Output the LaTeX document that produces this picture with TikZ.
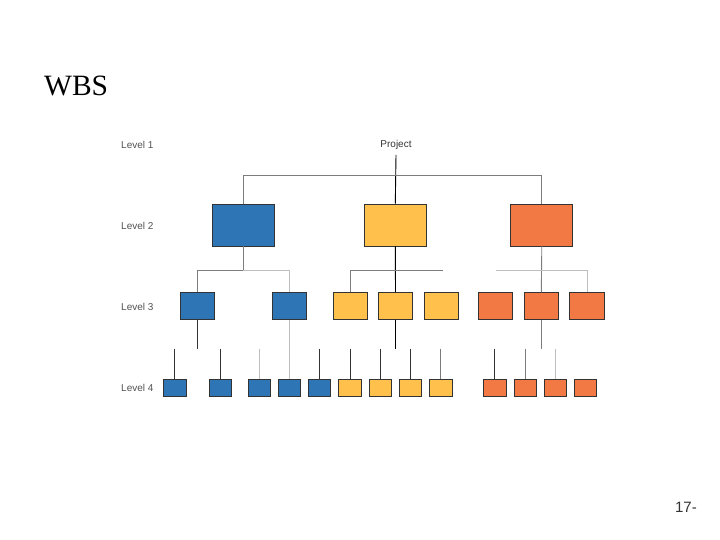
\documentclass[tikz,border=0pt]{standalone}
\usepackage{fontspec}
\setmainfont{Liberation Sans}
\newfontfamily\titlefont{Liberation Serif}
\usepackage{tikz}
\usetikzlibrary{positioning}
\usepackage{xcolor}
\definecolor{WbsBlue}{RGB}{46,117,182}
\definecolor{WbsYellow}{RGB}{255,192,76}
\definecolor{WbsOrange}{RGB}{242,121,68}
\definecolor{EdgeDark}{RGB}{51,51,51}
\definecolor{EdgeMid}{RGB}{125,125,125}
\definecolor{EdgeLight}{RGB}{190,190,190}

\tikzset{
  lvltext/.style={anchor=west,font=\fontsize{10}{12}\selectfont,text=EdgeDark!85,inner sep=0pt},
  wbsbox/.style={draw=EdgeDark,line width=0.8pt,inner sep=0pt},
  boxtwo/.style={wbsbox,minimum width=62pt,minimum height=42pt},
  boxthree/.style={wbsbox,minimum width=34.5pt,minimum height=26.7pt},
  boxfour/.style={wbsbox,minimum width=22.7pt,minimum height=17.3pt},
  conn/.style={line width=0.9pt,EdgeDark},
  connmid/.style={line width=0.9pt,EdgeMid},
  connlight/.style={line width=0.9pt,EdgeLight}
}

\begin{document}
\begin{tikzpicture}[x=1pt,y=1pt]
    \useasboundingbox (0,0) rectangle (720,-540);

    % title and page number
    \node[anchor=west,inner sep=0pt,font=\titlefont\fontsize{29.5}{32}\selectfont] (title) at (44,-86) {WBS};
    \node[anchor=east,inner sep=0pt,font=\fontsize{15}{18}\selectfont,text=EdgeDark] (pagenum) at (697,-507) {17-};

    % level labels
    \node[lvltext] (lvlone) at (121,-145) {Level 1};
    \node[lvltext] (lvltwo) at (121,-226) {Level 2};
    \node[lvltext] (lvlthree) at (121,-307) {Level 3};
    \node[lvltext] (lvlfour) at (121,-388) {Level 4};

    % level 1 and 2
    \node[inner sep=0pt,font=\fontsize{10}{12}\selectfont,text=EdgeDark] (project) at (396,-145) {Project};
    \node[boxtwo,fill=WbsBlue] (b2) at (243.3,-225) {};
    \node[boxtwo,fill=WbsYellow] (y2) at (395.3,-225) {};
    \node[boxtwo,fill=WbsOrange] (o2) at (541.8,-225) {};

    % level 3
    \foreach \n/\x/\c in {b31/197.5/WbsBlue,b32/289.5/WbsBlue,
                          y31/350.3/WbsYellow,y32/395.5/WbsYellow,y33/441.2/WbsYellow,
                          o31/495.5/WbsOrange,o32/541.3/WbsOrange,o33/587/WbsOrange}
        \node[boxthree,fill=\c] (\n) at (\x,-306) {};

    % level 4
    \foreach \n/\x/\c in {b41/174.7/WbsBlue,b42/220.5/WbsBlue,b43/259.3/WbsBlue,b44/289.5/WbsBlue,b45/319.5/WbsBlue,
                          y41/350.2/WbsYellow,y42/380.3/WbsYellow,y43/410.3/WbsYellow,y44/440.7/WbsYellow,
                          o41/494.7/WbsOrange,o42/525.3/WbsOrange,o43/555.3/WbsOrange,o44/585.3/WbsOrange}
        \node[boxfour,fill=\c] (\n) at (\x,-388) {};

    % bus lines
    \coordinate (topbus) at (396,-175.7);
    \coordinate (busB) at (243.3,-270);
    \coordinate (busYend) at (442.7,-270);
    \coordinate (busOstart) at (496,-270);
    \coordinate (stubtop) at (0,-348.7);

    % level 1 -> level 2
    \draw[conn,black] ([yshift=-5pt]project.south) -- (y2.north);
    \draw[connmid] (b2.north) |- (topbus) -| (o2.north);

    % level 2 -> level 3
    \draw[connmid] (b2.south) -- (busB) -| (b31.north);
    \draw[connlight] (busB) -| (b32.north);
    \draw[conn,black] (y2.south) -- (y32.north);
    \draw[connmid] (y31.north) |- (busYend);
    \draw[connmid] (o2.south) -- (o32.north);
    \draw[connlight] (busOstart) -| (o33.north);

    % level 3 -> level 4
    \draw[conn] (b31.south) -- (b31.south |- stubtop);
    \draw[connlight] (b32.south) -- (b44.north);
    \draw[conn,black] (y32.south) -- (y32.south |- stubtop);
    \draw[connmid] (o32.south) -- (o32.south |- stubtop);

    \foreach \n/\s in {b41/conn,b42/conn,b43/connlight,b45/conn,
                       y41/conn,y42/conn,y43/conn,y44/connmid,
                       o41/conn,o42/connmid,o43/connlight}
        \draw[\s] (\n.north |- stubtop) -- (\n.north);
\end{tikzpicture}
\end{document}
